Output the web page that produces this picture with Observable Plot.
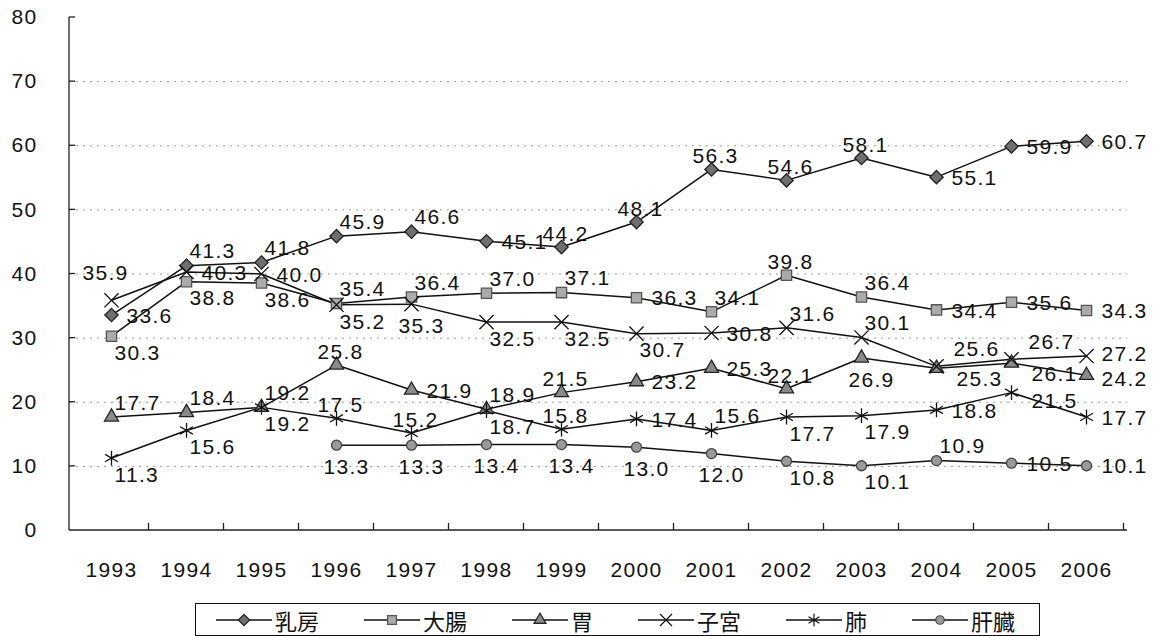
<!DOCTYPE html>
<html>
<head>
<meta charset="utf-8">
<script src="https://cdn.jsdelivr.net/npm/d3@7"></script>
<script src="https://cdn.jsdelivr.net/npm/@observablehq/plot@0.6"></script>
<style>
  body { margin: 0; background: #fff; }
  #chart svg text { letter-spacing: 1.3px; }
  #legend {
    margin: 11px 0 0 195px; width: 845px; height: 33px; box-sizing: border-box;
    border: 1.5px solid #111; display: flex; align-items: center; padding-left: 20px; gap: 45px;
    font-family: "Noto Sans CJK JP", sans-serif; font-size: 22px; line-height: 1; color: #111;
  }
  #legend .item { display: flex; align-items: center; gap: 3px; }
</style>
</head>
<body>
<div id="chart"></div>
<div id="legend"></div>
<script>
// ---- data ----
const years = ["1993","1994","1995","1996","1997","1998","1999","2000","2001","2002","2003","2004","2005","2006"];
const breast  = [33.6, 41.3, 41.8, 45.9, 46.6, 45.1, 44.2, 48.1, 56.3, 54.6, 58.1, 55.1, 59.9, 60.7];
const colon   = [30.3, 38.8, 38.6, 35.4, 36.4, 37.0, 37.1, 36.3, 34.1, 39.8, 36.4, 34.4, 35.6, 34.3];
const stomach = [17.7, 18.4, 19.2, 25.8, 21.9, 18.9, 21.5, 23.2, 25.3, 22.1, 26.9, 25.3, 26.1, 24.2];
const uterus  = [35.9, 40.3, 40.0, 35.2, 35.3, 32.5, 32.5, 30.7, 30.8, 31.6, 30.1, 25.6, 26.7, 27.2];
const lung    = [11.3, 15.6, 19.2, 17.5, 15.2, 18.7, 15.8, 17.4, 15.6, 17.7, 17.9, 18.8, 21.5, 17.7];
const liver   = [null, null, null, 13.3, 13.3, 13.4, 13.4, 13.0, 12.0, 10.8, 10.1, 10.9, 10.5, 10.1];
const seriesNames = ["乳房", "大腸", "胃", "子宮", "肺", "肝臓"];
const yTicks = [0, 10, 20, 30, 40, 50, 60, 70, 80];
const gridTicks = [10, 20, 30, 40, 50, 60, 70];

// ---- label placement codes (layout, not data) ----
const breastPos  = ["E","NE","NE","NE","NE","E","N","N","N","N","N","E","E","E"];
const colonPos   = ["SE","SE","SE","NE","NE","NE","NE","E","NE","N","NE","E","E","E"];
const stomachPos = ["NE","NE","NE","N","E","NE","N","E","E","N","S","SE2","SE2","ED"];
const uterusPos  = ["N2","E","E","SE","S","SE","SE","SE","E","NE","NE","NE2","NE2","EU"];
const lungPos    = ["SE","SE","SE","N","N","SE","N","E","NE","SE","SE","E","E2","E"];
const liverPos   = [null,null,null,"S","S","S","S","S","S","SE","SE","NE","E","E"];

const placements = {
  E:   {textAnchor: "start",  dx: 15, dy: 1},
  EU:  {textAnchor: "start",  dx: 15, dy: -2},
  ED:  {textAnchor: "start",  dx: 15, dy: 4},
  E2:  {textAnchor: "start",  dx: 20, dy: 9},
  NE:  {textAnchor: "start",  dx: 3,  dy: -14},
  NE2: {textAnchor: "start",  dx: 17, dy: -17},
  N:   {textAnchor: "middle", dx: 4,  dy: -13},
  N2:  {textAnchor: "middle", dx: -6, dy: -27},
  SE:  {textAnchor: "start",  dx: 3,  dy: 17},
  SE2: {textAnchor: "start",  dx: 20, dy: 11},
  S:   {textAnchor: "middle", dx: 10, dy: 22}
};

const seriesDefs = [
  {name: seriesNames[0], values: breast,  pos: breastPos,  symbol: "diamond2", r: 6.0, fill: "#6f6f6f", stroke: "#222"},
  {name: seriesNames[1], values: colon,   pos: colonPos,   symbol: "square",   r: 5.8, fill: "#ababab", stroke: "#555"},
  {name: seriesNames[2], values: stomach, pos: stomachPos, symbol: "triangle", r: 5.2, fill: "#8a8a8a", stroke: "#222"},
  {name: seriesNames[3], values: uterus,  pos: uterusPos,  symbol: "times",    r: 6.5, fill: "none",    stroke: "#111"},
  {name: seriesNames[4], values: lung,    pos: lungPos,    symbol: "asterisk", r: 7.0, fill: "none",    stroke: "#111"},
  {name: seriesNames[5], values: liver,   pos: liverPos,   symbol: "circle",   r: 5.0, fill: "#9a9a9a", stroke: "#444"}
];

const rows = seriesDefs.flatMap(s =>
  years.map((yr, i) => ({series: s.name, year: yr, value: s.values[i], pos: s.pos[i]}))
       .filter(d => d.value != null)
);

// axis lines and between-category ticks drawn from the scales
function frameMark(index, scales, values, dims) {
  const {width, marginLeft, marginRight} = dims;
  const y0 = scales.y(yTicks[0]);
  const yTop = scales.y(yTicks[yTicks.length - 1]);
  const xs = years.map(yr => scales.x(yr));
  const step = xs[1] - xs[0];
  const g = d3.create("svg:g").attr("stroke", "#222").attr("stroke-width", 1.3).attr("fill", "none");
  g.append("line").attr("x1", marginLeft).attr("x2", marginLeft).attr("y1", yTop).attr("y2", y0);
  g.append("line").attr("x1", marginLeft).attr("x2", width - marginRight).attr("y1", y0).attr("y2", y0);
  for (const x of xs) {
    g.append("line").attr("x1", x + step / 2).attr("x2", x + step / 2).attr("y1", y0).attr("y2", y0 - 7);
  }
  for (const t of yTicks.slice(1)) {
    const y = scales.y(t);
    g.append("line").attr("x1", marginLeft).attr("x2", marginLeft + 6).attr("y1", y).attr("y2", y);
  }
  return g.node();
}

const marks = [
  Plot.ruleY(gridTicks, {stroke: "#9a9a9a", strokeWidth: 1, strokeDasharray: "2,5"}),
  frameMark,
  Plot.line(rows, {x: "year", y: "value", z: "series", stroke: "#111", strokeWidth: 1.5})
];
for (const s of seriesDefs) {
  marks.push(Plot.dot(rows.filter(d => d.series === s.name), {
    x: "year", y: "value", symbol: s.symbol, r: s.r,
    fill: s.fill, stroke: s.stroke, strokeWidth: 1.3
  }));
}
for (const [code, p] of Object.entries(placements)) {
  marks.push(Plot.text(rows.filter(d => d.pos === code), {
    x: "year", y: "value", text: d => d.value.toFixed(1),
    textAnchor: p.textAnchor, dx: p.dx, dy: p.dy, fill: "#111"
  }));
}

const chart = Plot.plot({
  width: 1159,
  height: 592,
  marginLeft: 69,
  marginRight: 32,
  marginTop: 17,
  marginBottom: 62,
  style: {fontFamily: "'Liberation Sans', Arial, sans-serif", fontSize: "21px", color: "#111", background: "#fff"},
  x: {type: "point", domain: years, padding: 0.5, tickSize: 0, tickPadding: 32, label: null},
  y: {domain: [0, 80], ticks: yTicks, tickSize: 0, tickPadding: 32, label: null},
  marks
});
document.getElementById("chart").appendChild(chart);

// ---- legend ----
const symbolMap = {
  diamond2: d3.symbolDiamond2, square: d3.symbolSquare, triangle: d3.symbolTriangle,
  times: d3.symbolTimes || d3.symbolX, asterisk: d3.symbolAsterisk, circle: d3.symbolCircle
};
const legend = d3.select("#legend");
for (const s of seriesDefs) {
  const item = legend.append("div").attr("class", "item");
  const svg = item.append("svg").attr("width", 56).attr("height", 22);
  svg.append("line").attr("x1", 0).attr("x2", 56).attr("y1", 11).attr("y2", 11)
     .attr("stroke", "#111").attr("stroke-width", 1.4);
  const rr = s.r * 0.85;
  svg.append("path").attr("transform", "translate(28,11)")
     .attr("d", d3.symbol(symbolMap[s.symbol], Math.PI * rr * rr)())
     .attr("fill", s.fill).attr("stroke", s.stroke).attr("stroke-width", 1.2);
  item.append("span").text(s.name);
}
</script>
</body>
</html>
